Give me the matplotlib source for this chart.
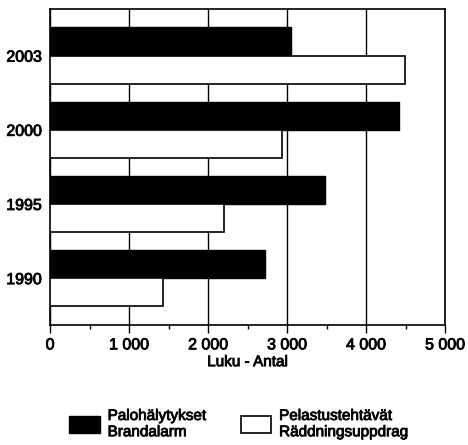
import numpy as np
import matplotlib.pyplot as plt
from matplotlib.patches import Patch
from matplotlib.ticker import MultipleLocator, FuncFormatter
import matplotlib.patheffects as pe

plt.rcParams['font.family'] = ['Liberation Sans', 'DejaVu Sans']

years = ['1990', '1995', '2000', '2003']
palo = [2720, 3480, 4420, 3050]      # Palohälytykset / Brandalarm
pelastus = [1425, 2200, 2940, 4490]  # Pelastustehtävät / Räddningsuppdrag

fig = plt.figure(figsize=(4.68, 4.45), dpi=100)
ax = fig.add_axes([0.107, 0.270, 0.844, 0.710])

y = np.arange(len(years))
h = 0.38
ax.barh(y + h / 2, palo, height=h, color='black', edgecolor='black', linewidth=1.0, zorder=3)
ax.barh(y - h / 2, pelastus, height=h, color='white', edgecolor='black', linewidth=1.2, zorder=3)

ax.set_xlim(0, 5000)
ax.set_ylim(-0.63, 3.63)
ax.xaxis.set_major_locator(MultipleLocator(1000))
ax.xaxis.set_minor_locator(MultipleLocator(500))
ax.xaxis.set_major_formatter(FuncFormatter(lambda v, p: f"{int(v):,}".replace(",", " ")))
ax.grid(axis='x', which='major', color='black', linewidth=1.0, zorder=0)
ax.set_yticks(y)
ax.set_yticklabels(years)
ax.tick_params(axis='y', length=0, pad=6, labelsize=11.5)
ax.tick_params(axis='x', which='major', direction='out', length=6, width=1.0, labelsize=11.5, pad=3)
ax.tick_params(axis='x', which='minor', direction='out', length=3, width=1.0)
for s in ax.spines.values():
    s.set_linewidth(1.2)
ax.set_xlabel('Luku - Antal', fontsize=11, labelpad=2)

# thicken the text a bit, the original is a heavy scan
thick = [pe.withStroke(linewidth=0.6, foreground='black')]
for t in ax.get_xticklabels() + ax.get_yticklabels() + [ax.xaxis.label]:
    t.set_path_effects(thick)

handles = [Patch(facecolor='black', edgecolor='black', label='Palohälytykset\nBrandalarm'),
           Patch(facecolor='white', edgecolor='black', linewidth=1.2, label='Pelastustehtävät\nRäddningsuppdrag')]
leg = fig.legend(handles=handles, loc='center', bbox_to_anchor=(0.51, 0.047), ncol=2, frameon=False,
                 fontsize=11, handlelength=2.0, handleheight=1.4, handletextpad=0.5, columnspacing=2.3,
                 labelspacing=0.1)
for t in leg.get_texts():
    t.set_path_effects(thick)

fig.savefig('out.png', dpi=100)
